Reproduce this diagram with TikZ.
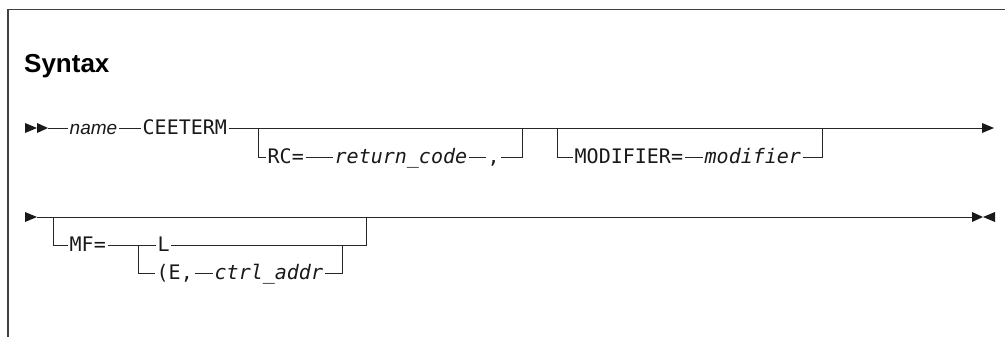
\documentclass[tikz,border=0pt]{standalone}
\usepackage{fontspec}
\setmainfont{Liberation Sans}
\newfontfamily\railmono{DejaVu Sans Mono}
\tikzset{
  rail/.style={line width=0.9pt, draw=black!85},
  railtext/.style={anchor=west, inner xsep=1.5pt, inner ysep=0pt,
    text height=13pt, text depth=0pt, text=black!90},
  kw/.style={railtext, font=\railmono\fontsize{20}{22}\selectfont},
  var/.style={railtext, font=\railmono\itshape\fontsize{20}{22}\selectfont},
  lbl/.style={railtext, font=\itshape\fontsize{19}{21}\selectfont},
}
\begin{document}
\begin{tikzpicture}[x=1pt,y=-1pt]
\useasboundingbox (0,0) rectangle (1005,337);
\draw[line width=1.2pt, black!75] (8,337) -- (8,9.5) -- (1005,9.5);
\node[anchor=base west, inner sep=0pt, font=\bfseries\fontsize{26}{30}\selectfont] (title) at (24,72.5) {Syntax};
% first row
\fill[black!90] (25,123) -- (37,128) -- (25,133) -- cycle;
\fill[black!90] (37,123) -- (48,128) -- (37,133) -- cycle;
\coordinate (rowa) at (48,128);
\node[lbl] (name) at (68,128) {name};
\node[kw] (ceeterm) at (141,128) {CEETERM};
\coordinate (rowaend) at (982,128);
\fill[black!90] (982,123) -- (994,128) -- (982,133) -- cycle;
\draw[rail] (rowa) -- (name);
\draw[rail] (name) -- (ceeterm);
\draw[rail] (ceeterm) -- (rowaend);
% RC= branch
\coordinate (rcin) at (258,128);
\coordinate (rcout) at (522,128);
\node[kw] (rc) at (266,157) {RC=};
\node[var] (retcode) at (333,157) {return\_code};
\node[kw] (comma) at (486,157) {,};
\draw[rail] (rcin) |- (rc.west);
\draw[rail] (rc) -- (retcode);
\draw[rail] (retcode) -- (comma);
\draw[rail] (comma.east) -| (rcout);
% MODIFIER= branch
\coordinate (modin) at (557,128);
\coordinate (modout) at (822,128);
\node[kw] (modkw) at (573,157) {MODIFIER=};
\node[var] (modval) at (703,157) {modifier};
\draw[rail] (modin) |- (modkw.west);
\draw[rail] (modkw) -- (modval);
\draw[rail] (modval.east) -| (modout);
% second row
\fill[black!90] (25,212) -- (37,217) -- (25,222) -- cycle;
\coordinate (rowb) at (37,217);
\coordinate (rowbend) at (972,217);
\fill[black!90] (972,212) -- (983,217) -- (972,222) -- cycle;
\fill[black!90] (995,212) -- (983,217) -- (995,222) -- cycle;
\draw[rail] (rowb) -- (rowbend);
% MF= branch
\coordinate (mfin) at (53,217);
\node[kw] (mf) at (68,245) {MF=};
\coordinate (mfsplit) at (138,245);
\node[kw] (lval) at (156,245) {L};
\coordinate (mfout) at (366,217);
\node[kw] (eparen) at (155,273) {(E,};
\node[var] (ctrl) at (213,273) {ctrl\_addr};
\coordinate (ctrlout) at (342,245);
\draw[rail] (mfin) |- (mf.west);
\draw[rail] (mf) -- (lval);
\draw[rail] (lval.east) -| (mfout);
\draw[rail] (mfsplit) |- (eparen.west);
\draw[rail] (eparen) -- (ctrl);
\draw[rail] (ctrl.east) -| (ctrlout);
\end{tikzpicture}
\end{document}
